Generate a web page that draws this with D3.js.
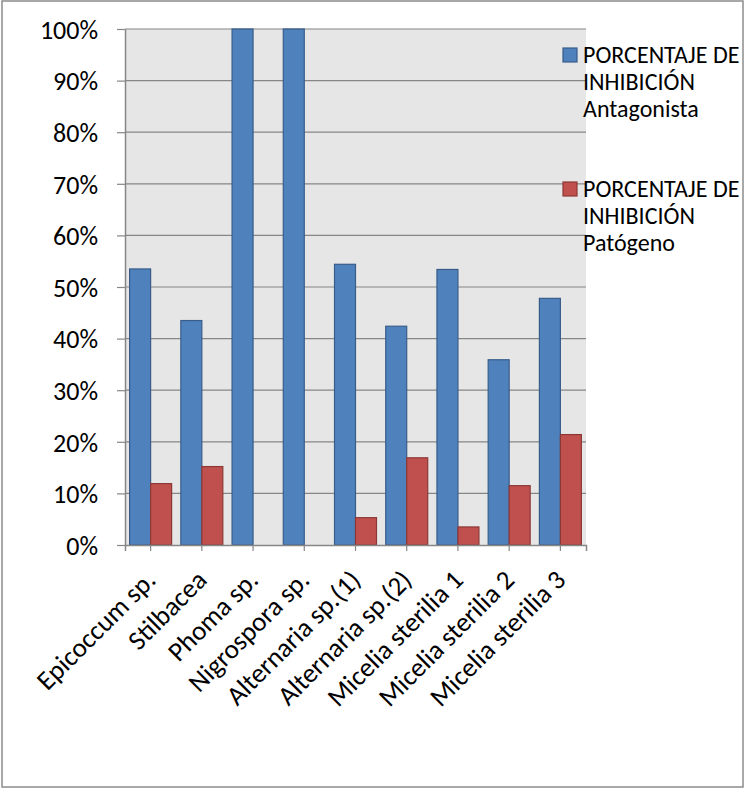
<!DOCTYPE html>
<html>
<head>
<meta charset="utf-8">
<script src="https://cdn.jsdelivr.net/npm/d3@7"></script>
<style>
  body { margin: 0; background: #fff; }
  svg { display: block; font-family: Calibri, Carlito, Lato, sans-serif; }
</style>
</head>
<body>
<svg width="745" height="788"></svg>
<script>
var categories = ["Epicoccum sp.", "Stilbacea", "Phoma sp.", "Nigrospora sp.", "Alternaria sp.(1)",
                  "Alternaria sp.(2)", "Micelia sterilia 1", "Micelia sterilia 2", "Micelia sterilia 3"];
var antagonista = [53.5, 43.5, 100, 100, 54.4, 42.4, 53.4, 35.9, 47.8];
var patogeno = [11.9, 15.2, 0, 0, 5.3, 16.9, 3.5, 11.5, 21.4];
var seriesNames = ["PORCENTAJE DE INHIBICIÓN Antagonista", "PORCENTAJE DE INHIBICIÓN Patógeno"];
var yTicks = [0, 10, 20, 30, 40, 50, 60, 70, 80, 90, 100];

var svg = d3.select("svg"),
    margin = {top: 29, right: 159, bottom: 243, left: 125},
    width = 745 - margin.left - margin.right,
    height = 788 - margin.top - margin.bottom;

var fills = ["#4f81bd", "#c0504d"],
    strokes = ["#385d8a", "#8c3836"];

// outer frame
svg.append("rect")
    .attr("x", 2).attr("y", 1)
    .attr("width", 741).attr("height", 786)
    .attr("fill", "#fff")
    .attr("stroke", "#8c8c8c")
    .attr("stroke-width", 1.5);

var g = svg.append("g").attr("transform", "translate(" + margin.left + "," + margin.top + ")");

var x0 = d3.scaleBand().domain(categories).range([0, width]).padding(0);
var x1 = d3.scaleBand().domain([0, 1]).range([0, x0.bandwidth()]).paddingInner(0).paddingOuter(0.22);
var y = d3.scaleLinear().domain([0, 100]).range([height, 0]);

// plot background
g.append("rect")
    .attr("width", width).attr("height", height)
    .attr("fill", "#e6e6e6");

// gridlines
g.selectAll(".grid")
    .data(yTicks.slice(1))
  .enter().append("line")
    .attr("x1", 0).attr("x2", width)
    .attr("y1", function(d) { return y(d); })
    .attr("y2", function(d) { return y(d); })
    .style("stroke", "#868686")
    .style("stroke-width", 1.2);

// bars
var data = categories.map(function(c, i) {
  return {cat: c, values: [antagonista[i], patogeno[i]]};
});

var grp = g.selectAll(".cat")
    .data(data)
  .enter().append("g")
    .attr("transform", function(d) { return "translate(" + x0(d.cat) + ",0)"; });

grp.selectAll("rect")
    .data(function(d) { return d.values.map(function(v, k) { return {k: k, v: v}; }); })
  .enter().append("rect")
    .filter(function(d) { return d.v > 0; })
    .attr("x", function(d) { return x1(d.k); })
    .attr("width", x1.bandwidth())
    .attr("y", function(d) { return y(d.v); })
    .attr("height", function(d) { return height - y(d.v); })
    .attr("fill", function(d) { return fills[d.k]; })
    .attr("stroke", function(d) { return strokes[d.k]; })
    .attr("stroke-width", 1.2);

// y axis
var yAxis = g.append("g")
    .call(d3.axisLeft(y).tickValues(yTicks).tickSize(8).tickSizeOuter(0)
      .tickFormat(function(d) { return d + "%"; }));
yAxis.select(".domain").style("stroke", "#868686").style("stroke-width", 1.5);
yAxis.selectAll(".tick text")
    .attr("x", -27)
    .attr("dy", "0.36em")
    .style("font-family", "Calibri, Carlito, Lato, sans-serif")
    .style("font-size", "26px")
    .style("fill", "#000");
yAxis.selectAll(".tick line").style("stroke", "#868686").style("stroke-width", 1.2);

// x axis
var xAxis = g.append("g")
    .attr("transform", "translate(0," + height + ")")
    .call(d3.axisBottom(x0).tickSize(6).tickSizeOuter(6));
xAxis.select(".domain").style("stroke", "#868686").style("stroke-width", 1.5);
xAxis.selectAll(".tick line").style("stroke", "#868686").style("stroke-width", 1.2);
xAxis.selectAll(".tick text")
    .attr("text-anchor", "end")
    .attr("transform", "translate(0,30) rotate(-45)")
    .attr("x", 0).attr("y", 0).attr("dy", "0.35em")
    .style("font-family", "Calibri, Carlito, Lato, sans-serif")
    .style("font-size", "27px")
    .style("fill", "#000");

// legend
var legendLines = [["PORCENTAJE DE", "INHIBICIÓN", "Antagonista"], ["PORCENTAJE DE", "INHIBICIÓN", "Patógeno"]];
var legend = svg.selectAll(".legend")
    .data(seriesNames)
  .enter().append("g")
    .attr("transform", function(d, i) { return "translate(563," + (48 + i * 134) + ")"; });

legend.append("rect")
    .attr("width", 14).attr("height", 14)
    .attr("fill", function(d, i) { return fills[i]; })
    .attr("stroke", function(d, i) { return strokes[i]; })
    .attr("stroke-width", 1.2);

legend.each(function(d, i) {
  d3.select(this).selectAll("text")
      .data(legendLines[i])
    .enter().append("text")
      .attr("x", 20)
      .attr("y", function(t, j) { return 15 + j * 27; })
      .style("font-size", "24px")
      .style("fill", "#000")
      .text(function(t) { return t; });
});
</script>
</body>
</html>
